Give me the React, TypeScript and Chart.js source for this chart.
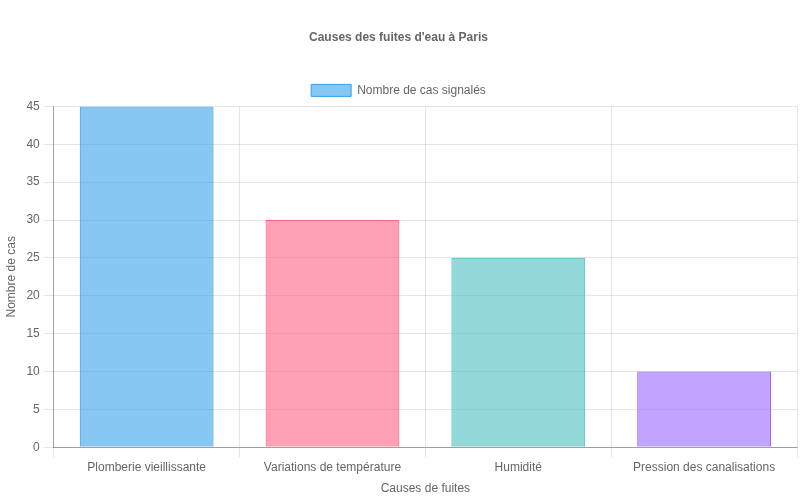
import { useEffect, useRef } from 'react';
import Chart from 'chart.js/auto';

const categories = [
  'Plomberie vieillissante',
  'Variations de température',
  'Humidité',
  'Pression des canalisations',
];
const caseCounts = [45, 30, 25, 10];
const fillColors = [
  'rgba(54, 162, 235, 0.6)',
  'rgba(255, 99, 132, 0.6)',
  'rgba(75, 192, 192, 0.6)',
  'rgba(153, 102, 255, 0.6)',
];
const edgeColors = [
  'rgba(54, 162, 235, 1)',
  'rgba(255, 99, 132, 1)',
  'rgba(75, 192, 192, 1)',
  'rgba(153, 102, 255, 1)',
];

export default function App() {
  const chartRef = useRef<HTMLCanvasElement>(null);
  const chartInstance = useRef<Chart | null>(null);

  useEffect(() => {
    document.body.style.margin = '0';
    if (!chartRef.current) return;
    if (chartInstance.current) chartInstance.current.destroy();

    Chart.defaults.font.family = '"Liberation Sans", Arial, Helvetica, sans-serif';
    Chart.defaults.color = '#666';

    chartInstance.current = new Chart(chartRef.current, {
      type: 'bar',
      data: {
        labels: categories,
        datasets: [
          {
            label: 'Nombre de cas signalés',
            data: caseCounts,
            backgroundColor: fillColors,
            borderColor: edgeColors,
            borderWidth: 1,
          },
        ],
      },
      options: {
        responsive: false,
        animation: false,
        layout: { padding: { right: 3 } },
        plugins: {
          title: {
            display: true,
            text: "Causes des fuites d'eau à Paris",
            color: '#666',
            font: { size: 12, weight: 'bold' },
            padding: { top: 30, bottom: 30 },
          },
          legend: {
            position: 'top',
          },
        },
        scales: {
          y: {
            beginAtZero: true,
            grid: { tickLength: 10 },
            border: { color: 'rgba(0, 0, 0, 0.3)' },
            ticks: { padding: 4 },
            title: { display: true, text: 'Nombre de cas' },
          },
          x: {
            grid: { tickLength: 10 },
            border: { color: 'rgba(0, 0, 0, 0.3)' },
            title: { display: true, text: 'Causes de fuites' },
          },
        },
      },
    });

    return () => {
      if (chartInstance.current) {
        chartInstance.current.destroy();
        chartInstance.current = null;
      }
    };
  }, []);

  return (
    <div style={{ width: 800, height: 500 }}>
      <canvas ref={chartRef} width={800} height={500} />
    </div>
  );
}
